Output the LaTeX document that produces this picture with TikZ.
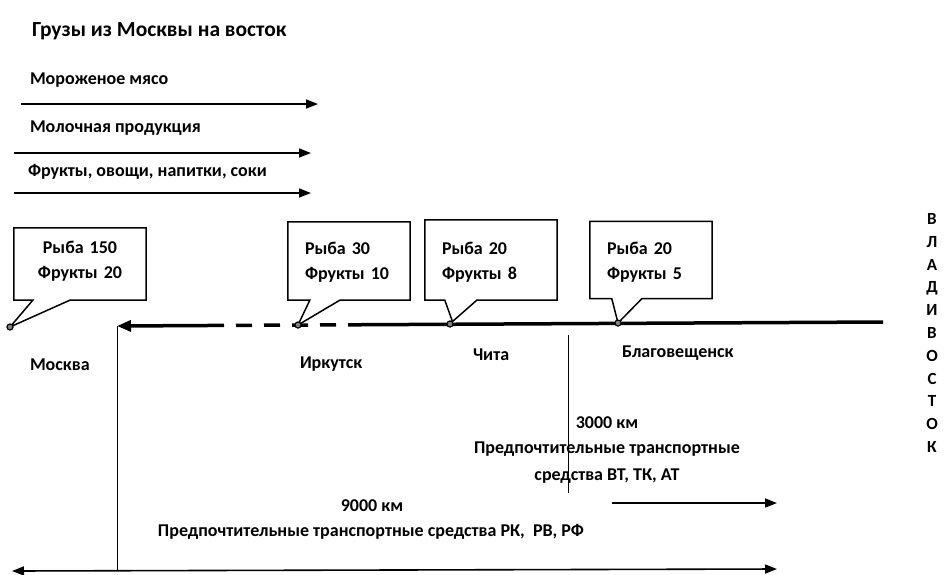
\documentclass[tikz,border=0pt]{standalone}
\usepackage{fontspec}
\setmainfont{Carlito}
\usetikzlibrary{calc,arrows.meta}
\tikzstyle{txt}      = [font=\bfseries\fontsize{18}{21}\selectfont,
                        inner sep=0pt,outer sep=0pt]
\tikzstyle{title}    = [font=\bfseries\fontsize{21.5}{25}\selectfont,
                        inner sep=0pt,outer sep=0pt]
\tikzstyle{goods}    = [line width=1.6pt,-{Triangle[length=12pt,width=9pt]}]
\tikzstyle{bubble}   = [draw,line width=1.5pt,fill=white,line join=miter]
\tikzstyle{freight}  = [font=\bfseries\fontsize{18}{25}\selectfont,
                        inner sep=0pt,outer sep=0pt]
\tikzstyle{stop}     = [circle,draw,fill=gray,line width=1pt,
                        minimum size=6pt,inner sep=0pt]
\tikzset{route/.style={line width=3.5pt}}

\begin{document}
\begin{tikzpicture}[x=1pt,y=-1pt]
        \useasboundingbox (0,0) rectangle (945,574);

        % Cargo list
        \node[title,anchor=west] (head) at (32,31) {Грузы из Москвы на восток};
        \node[txt,anchor=west] (meat) at (30,80) {Мороженое мясо};
        \node[txt,anchor=west] (milk) at (30,128) {Молочная продукция};
        \node[txt,anchor=west] (fruit) at (28,172) {Фрукты, овощи, напитки, соки};
        \coordinate (meatL) at (21,104);  \coordinate (meatR) at (318,104);
        \coordinate (milkL) at (14,153);  \coordinate (milkR) at (311,153);
        \coordinate (fruitL) at (14,193); \coordinate (fruitR) at (311,193);
        \draw[goods] (meatL) -- (meatR);
        \draw[goods] (milkL) -- (milkR);
        \draw[goods] (fruitL) -- (fruitR);

        % Route
        \coordinate (west) at (117,326);
        \coordinate (gapL) at (224,325.4);
        \coordinate (gapR) at (350,324.8);
        \coordinate (east) at (883,322);
        \draw[route,{Triangle[length=14pt,width=11pt]}-] (west) -- (gapL);
        \draw[route,dash pattern=on 16pt off 12pt,dash phase=16pt] (gapL) -- (gapR);
        \draw[route] (gapR) -- (east);

        % Stations
        \node[stop] (dMsk) at (10,327) {};
        \node[stop] (dIrk) at (298,325) {};
        \node[stop] (dChi) at (450,324) {};
        \node[stop] (dBlg) at (618,323) {};

        \node[txt,anchor=west] (Msk) at (30,365) {Москва};
        \node[txt,anchor=west] (Irk) at (300,364) {Иркутск};
        \node[txt,anchor=west] (Chi) at (473,355) {Чита};
        \node[txt,anchor=west] (Blg) at (622,353) {Благовещенск};

        % Callouts
        \node[minimum width=132pt,minimum height=72pt,inner sep=0pt] (bMsk) at (80,264) {};
        \node[minimum width=122pt,minimum height=78pt,inner sep=0pt] (bIrk) at (349,261) {};
        \node[minimum width=132pt,minimum height=80pt,inner sep=0pt] (bChi) at (491,260) {};
        \node[minimum width=122pt,minimum height=77pt,inner sep=0pt] (bBlg) at (651,260) {};

        \draw[bubble] (bMsk.north west) -- (bMsk.north east) -- (bMsk.south east)
              -- ($(bMsk.south west)+(56,0)$) -- (dMsk.center) -- ($(bMsk.south west)+(19,0)$)
              -- (bMsk.south west) -- cycle;
        \draw[bubble] (bIrk.north west) -- (bIrk.north east) -- (bIrk.south east)
              -- ($(bIrk.south west)+(52,0)$) -- (dIrk.center) -- ($(bIrk.south west)+(22,0)$)
              -- (bIrk.south west) -- cycle;
        \draw[bubble] (bChi.north west) -- (bChi.north east) -- (bChi.south east)
              -- ($(bChi.south west)+(52,0)$) -- (dChi.north east) -- ($(bChi.south west)+(20,0)$)
              -- (bChi.south west) -- cycle;
        \draw[bubble] (bBlg.north west) -- (bBlg.north east) -- (bBlg.south east)
              -- ($(bBlg.south west)+(52,0)$) -- (dBlg.center) -- ($(bBlg.south west)+(22,0)$)
              -- (bBlg.south west) -- cycle;

        \node[freight,text width=120pt,align=center] (fMsk) at ($(bMsk)+(0,-3)$) {Рыба 150\\Фрукты 20};
        \node[freight,text width=88pt,align=left] (fIrk) at ($(bIrk)+(0,1)$) {Рыба 30\\Фрукты 10};
        \node[freight,text width=98pt,align=left] (fChi) at ($(bChi)+(0,2)$) {Рыба 20\\Фрукты 8};
        \node[freight,text width=88pt,align=left] (fBlg) at ($(bBlg)+(0,2)$) {Рыба 20\\Фрукты 5};
        \node[stop] at (dMsk) {};
        \node[stop] at (dIrk) {};
        \node[stop] at (dChi) {};
        \node[stop] at (dBlg) {};

        % Distances
        \coordinate (botL) at (12,571);
        \coordinate (botR) at (777,569);
        \coordinate (cutTop) at (568,335);
        \coordinate (cutBot) at (568,493);
        \coordinate (nearL) at (612,503);
        \coordinate (nearR) at (777,503);
        \draw[line width=0.6pt] (west) -- (west|-botL);
        \draw[line width=0.6pt] (cutTop) -- (cutBot);
        \draw[goods] (nearL) -- (nearR);
        \draw[goods,{Triangle[length=12pt,width=9pt]}-{Triangle[length=12pt,width=9pt]}] (botL) -- (botR);

        \node[txt] (km3) at (607,423) {3000 км};
        \node[freight,align=center,font=\bfseries\fontsize{18}{27}\selectfont] (ts3) at (607,463)
              {Предпочтительные транспортные\\средства ВТ, ТК, АТ};
        \node[txt] (km9) at (372,506) {9000 км};
        \node[txt] (ts9) at (371,532) {Предпочтительные транспортные средства РК,\ \ РВ, РФ};

        % Destination
        \node[freight,align=center,font=\bfseries\fontsize{17}{22.8}\selectfont] (vlad) at (932,333)
              {В\\Л\\А\\Д\\И\\В\\О\\С\\Т\\О\\К};
    \end{tikzpicture}
\end{document}
